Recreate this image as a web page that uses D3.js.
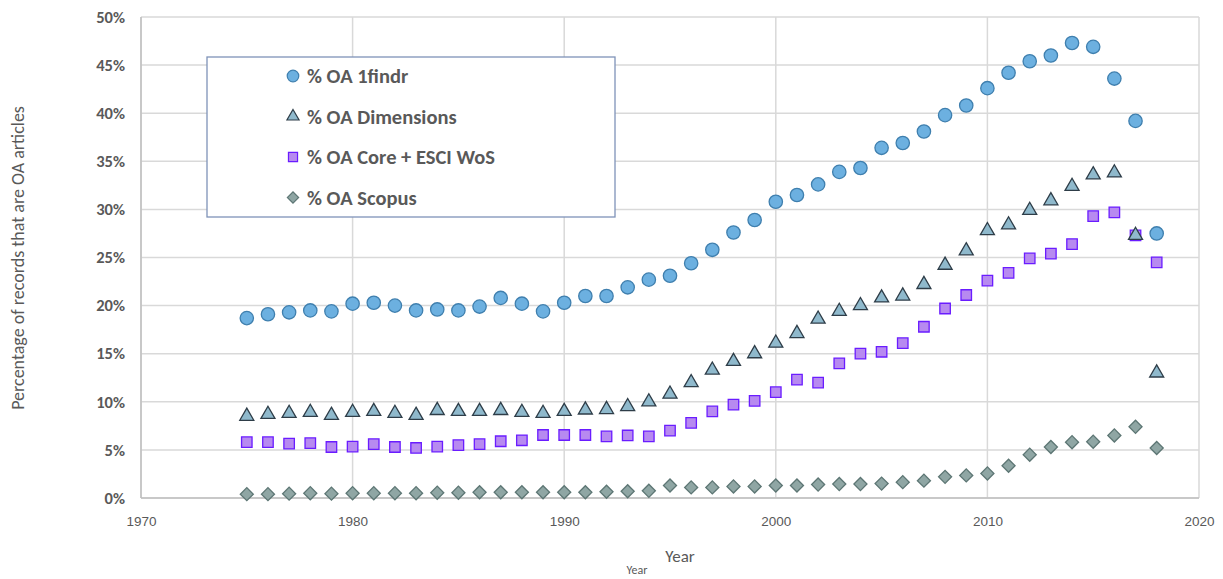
<!DOCTYPE html>
<html><head><meta charset="utf-8">
<script src="https://cdn.jsdelivr.net/npm/d3@7"></script>
<style>body{margin:0;background:#fff}svg{display:block}</style>
</head><body><svg id="c" width="1223" height="579"></svg>
<script>
const years = d3.range(1975, 2019);
const oa1findr = [18.7,19.1,19.3,19.5,19.4,20.2,20.3,20.0,19.5,19.6,19.5,19.9,20.8,20.2,19.4,20.3,21.0,21.0,21.9,22.7,23.1,24.4,25.8,27.6,28.9,30.8,31.5,32.6,33.9,34.3,36.4,36.9,38.1,39.8,40.8,42.6,44.2,45.4,46.0,47.3,46.9,43.6,39.2,27.5];
const oaDimensions = [8.5,8.7,8.8,8.9,8.6,8.9,9.0,8.8,8.6,9.1,9.0,9.0,9.1,8.9,8.8,9.0,9.15,9.2,9.5,10.0,10.8,12.0,13.3,14.2,15.0,16.1,17.1,18.6,19.4,20.0,20.8,21.0,22.2,24.2,25.7,27.8,28.4,29.9,30.9,32.4,33.6,33.8,27.3,13.0];
const oaWoS = [5.8,5.8,5.65,5.7,5.3,5.35,5.6,5.3,5.2,5.35,5.5,5.6,5.9,6.0,6.55,6.55,6.55,6.4,6.5,6.4,7.0,7.8,9.0,9.7,10.1,11.0,12.3,12.0,14.0,15.0,15.2,16.1,17.8,19.7,21.1,22.6,23.4,24.9,25.4,26.4,29.3,29.7,27.3,24.5];
const oaScopus = [0.4,0.4,0.45,0.5,0.45,0.5,0.5,0.5,0.5,0.55,0.55,0.6,0.6,0.6,0.6,0.6,0.6,0.65,0.7,0.75,1.3,1.1,1.1,1.2,1.2,1.3,1.3,1.4,1.45,1.45,1.5,1.65,1.8,2.2,2.35,2.55,3.35,4.5,5.3,5.8,5.85,6.5,7.4,5.2];
const seriesNames = ["% OA 1findr","% OA Dimensions","% OA Core + ESCI WoS","% OA Scopus"];
const xTicks = [1970,1980,1990,2000,2010,2020];
const yTicks = [0,5,10,15,20,25,30,35,40,45,50];

const svg = d3.select("#c");
const x = d3.scaleLinear().domain([1970,2020]).range([141,1199]);
const y = d3.scaleLinear().domain([0,50]).range([498,17]);
const font = "Carlito, 'Open Sans', 'Liberation Sans', sans-serif";
const grey = "#595959";

// grid
svg.append("g").selectAll("line").data(yTicks).join("line")
  .attr("x1",x(1970)).attr("x2",x(2020)).attr("y1",d=>y(d)).attr("y2",d=>y(d))
  .attr("stroke","#d9d9d9").attr("stroke-width",1.5);
svg.append("g").selectAll("line").data(xTicks).join("line")
  .attr("y1",y(0)).attr("y2",y(50)).attr("x1",d=>x(d)).attr("x2",d=>x(d))
  .attr("stroke","#d9d9d9").attr("stroke-width",1.5);
svg.append("line").attr("x1",x(1970)).attr("x2",x(1970)).attr("y1",y(0)).attr("y2",y(50)).attr("stroke","#bfbfbf").attr("stroke-width",1.5);
svg.append("line").attr("x1",x(1970)).attr("x2",x(2020)).attr("y1",y(0)).attr("y2",y(0)).attr("stroke","#bfbfbf").attr("stroke-width",1.5);

// axes labels
const yAxis = d3.axisLeft(y).tickValues(yTicks).tickFormat(d=>d+"%").tickSize(0).tickPadding(16);
const gy = svg.append("g").attr("transform",`translate(${x(1970)},0)`).call(yAxis);
gy.select(".domain").remove();
gy.selectAll("text").attr("font-family",font).attr("font-size",16.5).attr("font-weight","bold").attr("fill",grey);

const xAxis = d3.axisBottom(x).tickValues(xTicks).tickFormat(d3.format("d")).tickSize(0).tickPadding(18);
const gx = svg.append("g").attr("transform",`translate(0,${y(0)})`).call(xAxis);
gx.select(".domain").remove();
gx.selectAll("text").attr("font-family","'Liberation Sans Narrow', 'Liberation Sans', sans-serif").attr("font-size",13.5).attr("fill",grey);

svg.append("text").attr("x",680).attr("y",562).attr("text-anchor","middle").attr("font-family",font).attr("font-size",17).attr("fill",grey).text("Year");
svg.append("text").attr("x",637).attr("y",574).attr("text-anchor","middle").attr("font-family",font).attr("font-size",12).attr("fill",grey).text("Year");
svg.append("text").attr("transform","translate(24,258) rotate(-90)").attr("text-anchor","middle").attr("font-family",font).attr("font-size",18).attr("fill",grey).text("Percentage of records that are OA articles");

// markers
const styles = [
  {sym:d3.symbolCircle,size:140,fill:"#6cb0e0",stroke:"#3f7fae",rot:0},
  {sym:d3.symbolTriangle,size:85,fill:"#8fb9cc",stroke:"#2e3d48",rot:0},
  {sym:d3.symbolSquare,size:110,fill:"#b78af0",stroke:"#6a1cff",rot:0},
  {sym:d3.symbolSquare,size:85,fill:"#8fa6a4",stroke:"#5d7674",rot:45}
];
const data = [oa1findr, oaDimensions, oaWoS, oaScopus];
[3,2,1,0].forEach(i=>{
  const s = styles[i];
  svg.append("g").selectAll("path").data(data[i]).join("path")
    .attr("d", d3.symbol().type(s.sym).size(s.size))
    .attr("transform",(d,j)=>`translate(${x(years[j])},${y(d)}) rotate(${s.rot})`)
    .attr("fill",s.fill).attr("stroke",s.stroke).attr("stroke-width",1.3);
});

// legend
const lg = svg.append("g");
lg.append("rect").attr("x",207).attr("y",57).attr("width",408).attr("height",160).attr("fill","#fff").attr("stroke","#7f93b8").attr("stroke-width",1.3);
seriesNames.forEach((n,i)=>{
  const yy = 76 + i*40.5;
  const s = styles[i];
  lg.append("path").attr("d",d3.symbol().type(s.sym).size(s.size*0.75)).attr("transform",`translate(293,${yy}) rotate(${s.rot})`)
    .attr("fill",s.fill).attr("stroke",s.stroke).attr("stroke-width",1.2);
  lg.append("text").attr("x",307).attr("y",yy+7).attr("font-family",font).attr("font-size",20.5).attr("font-weight","bold").attr("fill",grey).text(n);
});
</script></body></html>
